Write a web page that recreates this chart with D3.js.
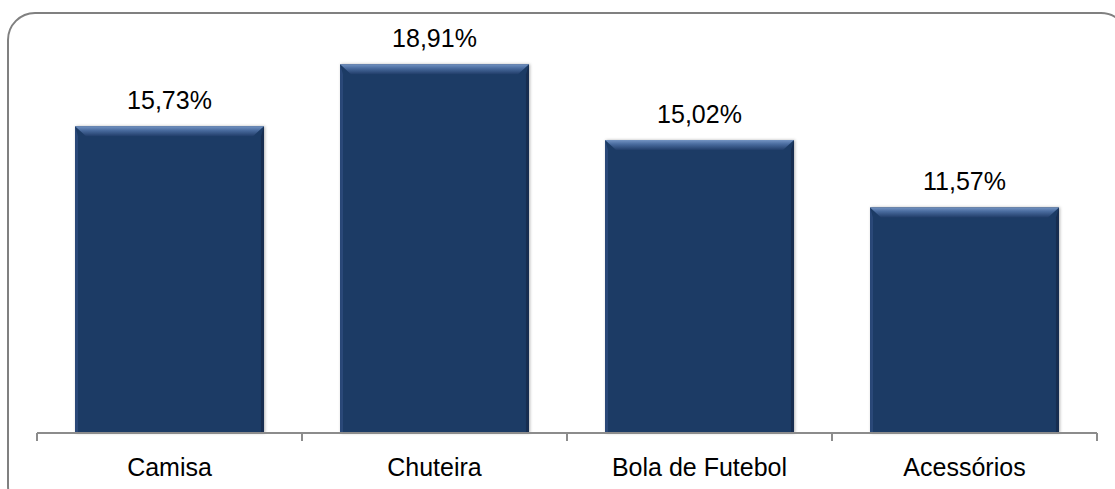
<!DOCTYPE html>
<html>
<head>
<meta charset="utf-8">
<script src="https://cdn.jsdelivr.net/npm/d3@7"></script>
<style>
  html, body { margin: 0; padding: 0; background: #fff; }
  svg text { font-family: "Liberation Sans", Arial, sans-serif; fill: #000; }
</style>
</head>
<body>
<svg id="chart" width="1115" height="489"></svg>
<script>
// Participação por categoria de produto
const categories = ["Camisa", "Chuteira", "Bola de Futebol", "Acessórios"];
const values = [15.73, 18.91, 15.02, 11.57];
const valueLabels = ["15,73%", "18,91%", "15,02%", "11,57%"];

const svg = d3.select("#chart");

// Rounded frame around the chart
svg.append("rect")
  .attr("x", 8).attr("y", 13)
  .attr("width", 1120).attr("height", 500)
  .attr("rx", 27).attr("ry", 27)
  .attr("fill", "none")
  .attr("stroke", "#808080")
  .attr("stroke-width", 2);

const plot = { left: 37, right: 1097, top: 43, bottom: 433 };

const x = d3.scaleBand()
  .domain(categories)
  .range([plot.left, plot.right])
  .paddingInner(0.287)
  .paddingOuter(0.1435);

const y = d3.scaleLinear()
  .domain([0, 20])
  .range([plot.bottom, plot.top]);

const defs = svg.append("defs");

const topGrad = defs.append("linearGradient")
  .attr("id", "topBevel").attr("x1", 0).attr("y1", 0).attr("x2", 0).attr("y2", 1);
topGrad.append("stop").attr("offset", "0%").attr("stop-color", "#7393c2");
topGrad.append("stop").attr("offset", "40%").attr("stop-color", "#4a6c9f");
topGrad.append("stop").attr("offset", "100%").attr("stop-color", "#213d69");

const shadow = defs.append("filter").attr("id", "barShadow")
  .attr("x", "-10%").attr("y", "-10%").attr("width", "120%").attr("height", "120%");
shadow.append("feDropShadow")
  .attr("dx", 1).attr("dy", 0).attr("stdDeviation", 1.6)
  .attr("flood-color", "#000").attr("flood-opacity", 0.3);

const bevel = 10, side = 3;

const bars = svg.append("g").selectAll("g")
  .data(categories.map((c, i) => ({ c, v: values[i], label: valueLabels[i] })))
  .join("g");

bars.append("rect")
  .attr("x", d => x(d.c))
  .attr("y", d => y(d.v))
  .attr("width", x.bandwidth())
  .attr("height", d => y(0) - y(d.v))
  .attr("fill", "#1f3b65")
  .attr("filter", "url(#barShadow)");

// left edge highlight
bars.append("path")
  .attr("d", d => {
    const x0 = x(d.c), y0 = y(d.v), y1 = y(0);
    return `M${x0},${y0}L${x0 + side},${y0 + bevel}L${x0 + side},${y1}L${x0},${y1}Z`;
  })
  .attr("fill", "#2a4878");

// right edge shade
bars.append("path")
  .attr("d", d => {
    const x1 = x(d.c) + x.bandwidth(), y0 = y(d.v), y1 = y(0);
    return `M${x1},${y0}L${x1 - side},${y0 + bevel}L${x1 - side},${y1}L${x1},${y1}Z`;
  })
  .attr("fill", "#172d50");

// top bevel
bars.append("path")
  .attr("d", d => {
    const x0 = x(d.c), x1 = x0 + x.bandwidth(), y0 = y(d.v);
    return `M${x0},${y0}L${x1},${y0}L${x1 - side - 8},${y0 + bevel}L${x0 + side + 8},${y0 + bevel}Z`;
  })
  .attr("fill", "url(#topBevel)");

// value labels
bars.append("text")
  .attr("x", d => x(d.c) + x.bandwidth() / 2)
  .attr("y", d => y(d.v) - 17)
  .attr("text-anchor", "middle")
  .attr("font-size", 25)
  .text(d => d.label);

// category axis
const axisG = svg.append("g");
axisG.append("line")
  .attr("x1", plot.left).attr("x2", plot.right)
  .attr("y1", plot.bottom).attr("y2", plot.bottom)
  .attr("stroke", "#8c8c8c").attr("stroke-width", 2);

const boundaries = [plot.left].concat(categories.map(c => x(c) + x.bandwidth() / 2 + x.step() / 2));
axisG.selectAll("line.tick")
  .data(boundaries)
  .join("line")
  .attr("class", "tick")
  .attr("x1", d => d).attr("x2", d => d)
  .attr("y1", plot.bottom).attr("y2", plot.bottom + 8)
  .attr("stroke", "#8c8c8c").attr("stroke-width", 2);

axisG.selectAll("text")
  .data(categories)
  .join("text")
  .attr("x", d => x(d) + x.bandwidth() / 2)
  .attr("y", 476)
  .attr("text-anchor", "middle")
  .attr("font-size", 25)
  .text(d => d);
</script>
</body>
</html>
